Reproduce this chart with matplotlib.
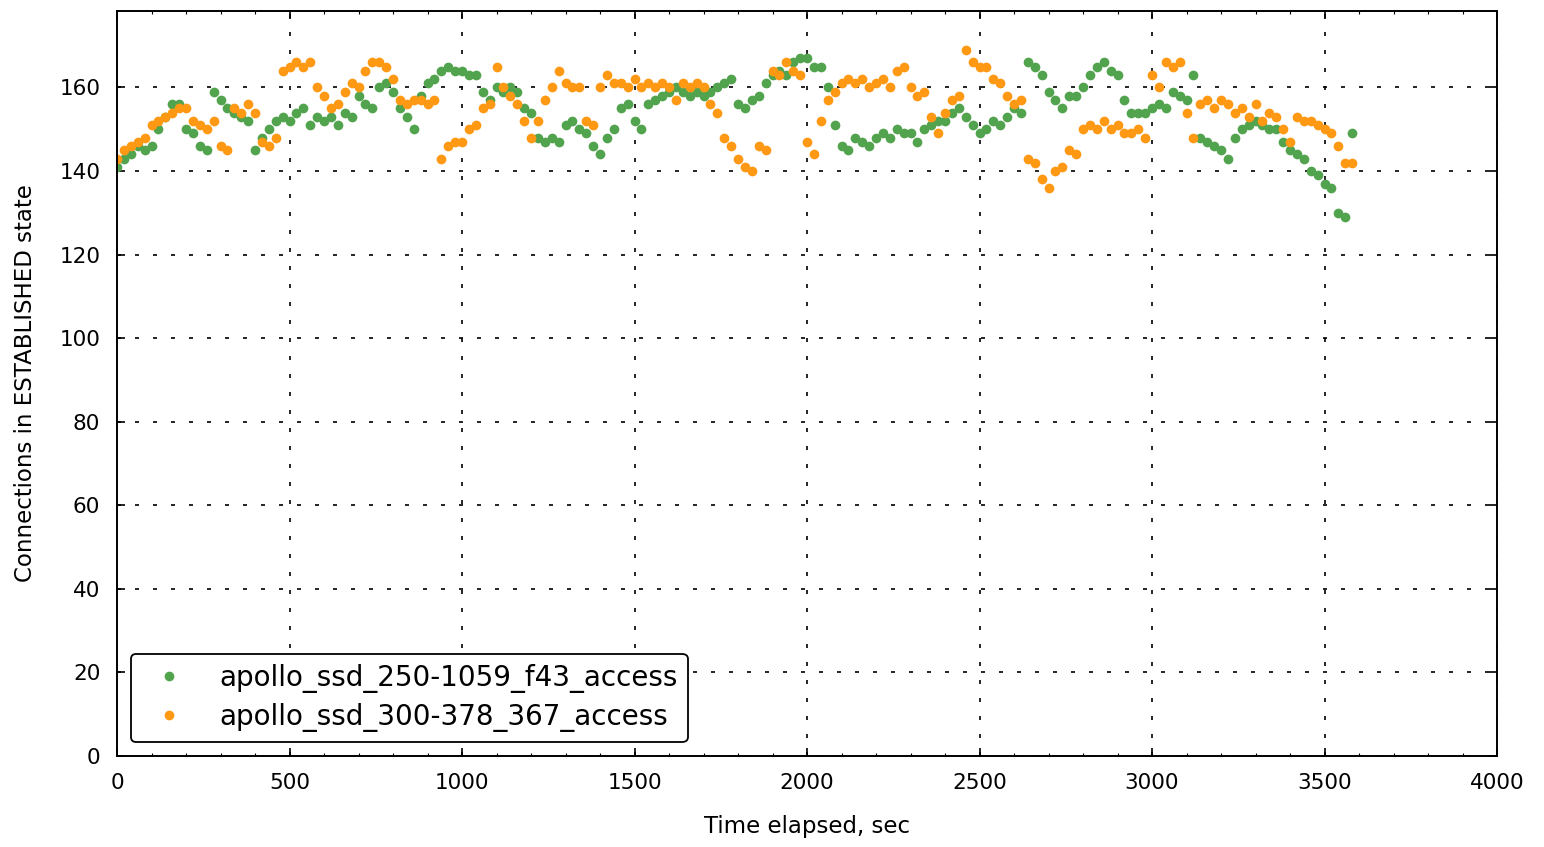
import numpy as np
import matplotlib
matplotlib.use("Agg")
import matplotlib.pyplot as plt
from matplotlib.ticker import MultipleLocator

# sample times, one reading every 20 s
t_sec = np.arange(0, 3600, 20)

conn_250 = [141, 143, 144, 146, 145, 146, 150, 153, 156, 156,
            150, 149, 146, 145, 159, 157, 155, 154, 153, 152,
            145, 148, 150, 152, 153, 152, 154, 155, 151, 153,
            152, 153, 151, 154, 153, 158, 156, 155, 160, 161,
            159, 155, 153, 150, 158, 161, 162, 164, 165, 164,
            164, 163, 163, 159, 157, 160, 159, 160, 159, 155,
            154, 148, 147, 148, 147, 151, 152, 150, 149, 146,
            144, 148, 150, 155, 156, 152, 150, 156, 157, 158,
            159, 160, 159, 158, 159, 158, 159, 160, 161, 162,
            156, 155, 157, 158, 161, 163, 164, 163, 166, 167,
            167, 165, 165, 160, 151, 146, 145, 148, 147, 146,
            148, 149, 148, 150, 149, 149, 147, 150, 151, 152,
            152, 154, 155, 153, 151, 149, 150, 152, 151, 153,
            155, 154, 166, 165, 163, 159, 157, 155, 158, 158,
            160, 163, 165, 166, 164, 163, 157, 154, 154, 154,
            155, 156, 155, 159, 158, 157, 163, 148, 147, 146,
            145, 143, 148, 150, 151, 152, 151, 150, 150, 147,
            145, 144, 143, 140, 139, 137, 136, 130, 129, 149]

conn_300 = [143, 145, 146, 147, 148, 151, 152, 153, 154, 155,
            155, 152, 151, 150, 152, 146, 145, 155, 154, 156,
            154, 147, 146, 148, 164, 165, 166, 165, 166, 160,
            158, 155, 156, 159, 161, 160, 164, 166, 166, 165,
            162, 157, 156, 157, 157, 156, 157, 143, 146, 147,
            147, 150, 151, 155, 156, 165, 160, 158, 156, 152,
            148, 152, 157, 160, 164, 161, 160, 160, 152, 151,
            160, 163, 161, 161, 160, 162, 160, 161, 160, 161,
            160, 157, 161, 160, 161, 160, 156, 154, 148, 146,
            143, 141, 140, 146, 145, 164, 163, 166, 164, 163,
            147, 144, 152, 157, 159, 161, 162, 161, 162, 160,
            161, 162, 160, 164, 165, 160, 158, 159, 153, 149,
            154, 157, 158, 169, 166, 165, 165, 162, 161, 158,
            156, 157, 143, 142, 138, 136, 140, 141, 145, 144,
            150, 151, 150, 152, 150, 151, 149, 149, 150, 148,
            163, 160, 166, 165, 166, 154, 148, 156, 157, 155,
            157, 156, 154, 155, 153, 156, 152, 154, 153, 150,
            147, 153, 152, 152, 151, 150, 149, 146, 142, 142]

series_names = ["apollo_ssd_250-1059_f43_access", "apollo_ssd_300-378_367_access"]
series_colors = ["#52a34e", "#ff9813"]

fig = plt.figure(figsize=(15.44, 8.47), dpi=100)
ax = fig.add_axes([0.0758, 0.1074, 0.8938, 0.8796])

for vals, name, col in zip([conn_250, conn_300], series_names, series_colors):
    ax.plot(t_sec, vals, linestyle="none", marker="o", markersize=7,
            markeredgewidth=0, color=col, label=name)

ax.set_xlim(0, 4000)
ax.set_ylim(0, 178.3)
ax.set_yticks(np.arange(0, 180, 20))
ax.xaxis.set_major_locator(MultipleLocator(500))
ax.xaxis.set_minor_locator(MultipleLocator(100))

ax.grid(True, which="major", color="black", linestyle=(0, (2.4, 8.4)), linewidth=1.2)
ax.tick_params(which="major", direction="in", length=6, width=1.2,
               top=True, right=True, labelsize=15.5, pad=12)
ax.tick_params(which="minor", direction="in", length=2.5, width=0.8,
               top=True, right=False)
for sp in ax.spines.values():
    sp.set_linewidth(1.4)

ax.set_xlabel("Time elapsed, sec", fontsize=16.5, labelpad=16)
ax.set_ylabel("Connections in ESTABLISHED state", fontsize=16.5, labelpad=16)

leg = ax.legend(loc="lower left", numpoints=1, fontsize=20, frameon=True,
                fancybox=True, edgecolor="black", framealpha=1,
                handletextpad=0.8, borderpad=0.37, labelspacing=0.35,
                borderaxespad=0.5, bbox_to_anchor=(0, 0))
leg.get_frame().set_linewidth(1.3)

fig.savefig("out.png", dpi=100)
